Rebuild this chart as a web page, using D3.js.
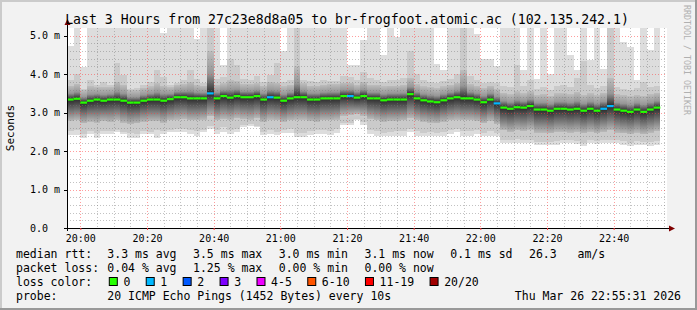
<!DOCTYPE html>
<html>
<head>
<meta charset="utf-8">
<script src="https://cdn.jsdelivr.net/npm/d3@7"></script>
<style>
  body { margin: 0; background: #f2f2f2; }
  svg text { font-family: "DejaVu Sans Mono", monospace; white-space: pre; }
</style>
</head>
<body>
<svg id="chart" width="697" height="310"></svg>
<script>
// ---- data (2 minute columns starting 19:56) ----
const startTime = new Date(2026, 2, 26, 19, 56)
const stepMinutes = 2

const medianRtt = [3.34,3.36,3.26,3.31,3.34,3.31,3.34,3.34,3.31,3.26,
    3.26,3.31,3.34,3.34,3.31,3.35,3.40,3.40,3.37,3.37,
    3.37,3.50,3.37,3.43,3.39,3.43,3.40,3.40,3.43,3.34,
    3.40,3.39,3.31,3.37,3.40,3.40,3.34,3.34,3.37,3.37,
    3.37,3.43,3.43,3.39,3.43,3.37,3.37,3.32,3.34,3.34,
    3.34,3.48,3.37,3.32,3.29,3.27,3.32,3.37,3.40,3.37,
    3.37,3.34,3.27,3.34,3.24,3.13,3.10,3.14,3.13,3.17,
    3.08,3.08,3.05,3.10,3.10,3.08,3.10,3.05,3.10,3.05,
    3.10,3.17,3.08,3.05,3.02,3.08,3.02,3.08,3.13]

const lossPct = [0,0,0,0,0,0,0,0,0,0, 0,0,0,0,0,0,0,0,0,0,
    0,1.25,0,0,0,0,0,0,0,0, 0.42,0,0,0,0,0,0,0,0,0,
    0,0,0.42,0,0,0,0,0,0,0, 0,0,0,0,0,0,0,0,0,0,
    0,0,0,0,0.42,0,0,0,0,0, 0,0,0,0,0,0,0,0,0,0,
    0.42,0.63,0,0,0,0,0,0,0]

// slowest ping (values above the top are clipped)
const pingMax = [4.72,6,4.19,6,6,6,6,6,6,6,
    6,6,6,6,5.08,6,6,6,6,4.92,
    6,6,6,4.25,6,6,6,6,6,6,
    6,6,4.60,6,6,6,6,6,6,6,
    6,6,4.23,4.23,4.88,6,6,4.51,6,4.97,
    6,6,6,6,6,4.27,4.12,6,6,6,
    6,5.05,4.40,4.40,4.20,6,6,6,4.10,6,
    3.88,6,4.01,6,6,4.50,4.12,6,4.37,6,
    4.14,6,6,4.84,4.70,3.84,6,4.63,6]

// second slowest ping
const pingHi2 = [3.84,4.01,3.62,3.84,3.73,3.79,3.71,4.29,3.97,3.62,
    3.64,3.71,3.79,4.10,3.93,3.72,3.76,3.84,4.11,3.88,
    3.76,6,3.88,3.92,4.40,4.23,3.88,3.86,3.95,3.80,
    3.98,4.29,3.80,3.86,6,3.84,3.82,3.80,3.86,3.82,
    3.82,3.96,3.92,3.86,4.05,3.90,3.86,3.80,3.86,3.84,
    3.90,4.60,4.00,3.84,3.80,3.78,3.82,3.88,4.00,6,
    3.94,3.84,3.78,3.80,3.76,3.70,3.66,4.23,3.68,3.84,
    3.62,3.66,3.60,3.70,3.72,3.66,3.90,4.35,3.72,3.64,
    3.70,6,3.66,3.62,3.60,3.64,3.79,3.66,3.70]

// upper edge of the dense smoke
const pingHi1 = [3.70,3.75,3.58,3.68,3.66,3.66,3.66,3.80,3.72,3.58,
    3.58,3.64,3.68,3.76,3.70,3.66,3.72,3.74,3.80,3.72,
    3.70,4.60,3.72,3.76,3.84,3.82,3.74,3.74,3.76,3.70,
    3.80,3.78,3.68,3.72,4.20,3.76,3.70,3.70,3.72,3.74,
    3.74,3.78,3.78,3.72,3.80,3.72,3.72,3.68,3.70,3.70,
    3.72,3.90,3.74,3.68,3.66,3.64,3.68,3.72,3.78,4.10,
    3.74,3.70,3.64,3.70,3.62,3.52,3.48,3.55,3.50,3.56,
    3.46,3.48,3.44,3.50,3.50,3.48,3.54,3.46,3.50,3.46,
    3.52,3.90,3.48,3.46,3.42,3.46,3.44,3.48,3.52]

// lower edge of the dense smoke
const pingLo1 = [2.78,2.80,2.72,2.76,2.74,2.78,2.76,2.80,2.74,2.70,
    2.72,2.76,2.78,2.78,2.74,2.80,2.82,2.84,2.80,2.80,
    2.82,2.90,2.80,2.84,2.82,2.86,2.84,2.82,2.86,2.76,
    2.82,2.80,2.76,2.80,2.82,2.82,2.78,2.76,2.80,2.80,
    2.82,2.92,2.94,2.96,2.92,2.84,2.80,2.76,2.78,2.78,
    2.80,2.86,2.80,2.76,2.74,2.72,2.76,2.80,2.82,2.80,
    2.80,2.78,2.72,2.78,2.70,2.54,2.50,2.54,2.52,2.56,
    2.48,2.48,2.46,2.50,2.50,2.48,2.50,2.46,2.50,2.46,
    2.50,2.54,2.48,2.46,2.44,2.48,2.44,2.48,2.52]

// second fastest ping
const pingLo2 = [2.52,2.54,2.44,2.52,2.46,2.52,2.52,2.56,2.50,2.46,
    2.44,2.52,2.50,2.54,2.52,2.56,2.58,2.58,2.54,2.52,
    2.56,2.64,2.54,2.62,2.56,2.58,2.68,2.70,2.66,2.50,
    2.56,2.50,2.56,2.58,2.48,2.48,2.52,2.56,2.56,2.52,
    2.58,2.74,2.74,2.84,2.76,2.56,2.52,2.48,2.50,2.52,
    2.52,2.58,2.52,2.48,2.50,2.46,2.50,2.56,2.58,2.52,
    2.52,2.56,2.48,2.52,2.46,2.30,2.28,2.32,2.30,2.30,
    2.24,2.24,2.24,2.26,2.28,2.28,2.26,2.22,2.28,2.26,
    2.28,2.30,2.28,2.26,2.22,2.26,2.24,2.24,2.26]

// fastest ping
const pingMin = [2.43,2.43,2.34,2.45,2.34,2.45,2.45,2.49,2.45,2.34,
    2.34,2.45,2.45,2.34,2.45,2.49,2.49,2.49,2.45,2.40,
    2.49,2.57,2.45,2.49,2.45,2.49,2.62,2.64,2.62,2.42,
    2.45,2.42,2.47,2.48,2.37,2.37,2.42,2.45,2.45,2.42,
    2.47,2.69,2.67,2.80,2.69,2.45,2.40,2.38,2.38,2.40,
    2.40,2.49,2.40,2.38,2.40,2.38,2.40,2.45,2.49,2.40,
    2.40,2.45,2.38,2.40,2.38,2.20,2.20,2.22,2.22,2.22,
    2.15,2.15,2.15,2.17,2.20,2.20,2.18,2.12,2.20,2.18,
    2.20,2.22,2.20,2.17,2.12,2.15,2.15,2.13,2.15]

const yTicks = [0, 1, 2, 3, 4, 5]
const yTickLabels = ['0.0', '1.0 m', '2.0 m', '3.0 m', '4.0 m', '5.0 m']

const lossLabels = ['0', '1', '2', '3', '4-5', '6-10', '11-19', '20/20']
const lossColors = ['#26ff00', '#00b8ff', '#0059ff', '#7e00ff', '#ee00ff', '#ff5500', '#ff0000', '#a10000']
const lossLimits = [0, 1, 2, 3, 5, 10, 19, 20]   // lost pings out of 20

const titleText = 'Last 3 Hours from 27c23e8d8a05 to br-frogfoot.atomic.ac (102.135.242.1)'
const probeText = '20 ICMP Echo Pings (1452 Bytes) every 10s'
const dateText = 'Thu Mar 26 22:55:31 2026'
const amsText = '26.3   am/s'

// ---- layout ----
const W = 697, H = 310
const plot = {left: 67, right: 667, top: 28, bottom: 228}
const times = medianRtt.map((d, i) => d3.timeMinute.offset(startTime, i * stepMinutes))

const x = d3.scaleTime()
    .domain([startTime, d3.timeMinute.offset(startTime, 180)])
    .range([plot.left, plot.right])
const y = d3.scaleLinear()
    .domain([0, 5.2])
    .range([plot.bottom, plot.top])

const svg = d3.select('#chart')
const defs = svg.append('defs')

svg.append('rect').attr('width', W).attr('height', H).attr('fill', '#f2f2f2')
svg.append('rect').attr('x', 0).attr('y', 0).attr('width', W).attr('height', 2).attr('fill', '#cbcbcb')
svg.append('rect').attr('x', 0).attr('y', 0).attr('width', 2).attr('height', H).attr('fill', '#cbcbcb')
svg.append('rect').attr('x', W - 2).attr('y', 0).attr('width', 2).attr('height', H).attr('fill', '#999')
svg.append('rect').attr('x', 0).attr('y', H - 2).attr('width', W).attr('height', 2).attr('fill', '#999')

svg.append('rect')
    .attr('x', plot.left).attr('y', plot.top)
    .attr('width', plot.right - plot.left).attr('height', plot.bottom - plot.top)
    .attr('fill', '#fff')

defs.append('clipPath').attr('id', 'clip')
    .append('rect')
    .attr('x', plot.left).attr('y', plot.top)
    .attr('width', plot.right - plot.left).attr('height', plot.bottom - plot.top)

const chart = svg.append('g').attr('clip-path', 'url(#clip)')

const colX = i => x(times[i])
const colW = i => x(d3.timeMinute.offset(times[i], stepMinutes)) - x(times[i])

function band(lo, hi, fill) {
    chart.append('g').selectAll('rect')
        .data(medianRtt)
        .join('rect')
        .attr('x', (d, i) => colX(i))
        .attr('width', (d, i) => colW(i))
        .attr('y', (d, i) => y(hi[i]))
        .attr('height', (d, i) => y(lo[i]) - y(hi[i]))
        .attr('fill', typeof fill === 'function' ? fill : () => fill)
        .attr('shape-rendering', 'crispEdges')
}

// smoke gradients: darkest at the median
medianRtt.forEach((m, i) => {
    const top = y(pingHi1[i]), bot = y(pingLo1[i])
    const off = (y(m) - top) / (bot - top)
    const g = defs.append('linearGradient')
        .attr('id', `sm${i}`)
        .attr('gradientUnits', 'userSpaceOnUse')
        .attr('x1', 0).attr('x2', 0).attr('y1', top).attr('y2', bot)
    g.append('stop').attr('offset', 0).attr('stop-color', '#bdbdbd')
    g.append('stop').attr('offset', off * 0.55).attr('stop-color', '#969696')
    g.append('stop').attr('offset', off).attr('stop-color', '#2a2a2a')
    g.append('stop').attr('offset', off + (1 - off) * 0.35).attr('stop-color', '#5c5c5c')
    g.append('stop').attr('offset', off + (1 - off) * 0.7).attr('stop-color', '#8e8e8e')
    g.append('stop').attr('offset', 1).attr('stop-color', '#b8b8b8')
})

band(pingMin, pingMax, '#dddddd')
band(pingLo2, pingHi2, '#cacaca')
band(pingLo1, pingHi1, (d, i) => `url(#sm${i})`)

// grid
const grid = svg.append('g')
const minorY = d3.range(0.2, 5.2, 0.2).filter(v => Math.abs(v - Math.round(v)) > 0.01)
grid.selectAll('.gy').data(minorY).join('line')
    .attr('x1', plot.left).attr('x2', plot.right)
    .attr('y1', d => Math.round(y(d)) + 0.5).attr('y2', d => Math.round(y(d)) + 0.5)
    .attr('stroke', 'rgba(120,120,120,0.45)').attr('stroke-dasharray', '1,2')
const minorX = d3.timeMinute.every(5).range(startTime, x.domain()[1])
    .filter(t => t.getMinutes() % 20 !== 0)
grid.selectAll('.gx').data(minorX).join('line')
    .attr('y1', plot.top).attr('y2', plot.bottom)
    .attr('x1', d => Math.round(x(d)) + 0.5).attr('x2', d => Math.round(x(d)) + 0.5)
    .attr('stroke', 'rgba(120,120,120,0.45)').attr('stroke-dasharray', '1,2')
grid.selectAll('.my').data(yTicks.slice(1)).join('line')
    .attr('x1', plot.left).attr('x2', plot.right)
    .attr('y1', d => Math.round(y(d)) + 0.5).attr('y2', d => Math.round(y(d)) + 0.5)
    .attr('stroke', 'rgba(255,60,60,0.5)').attr('stroke-dasharray', '1,2')
const majorX = d3.timeMinute.every(20).range(startTime, x.domain()[1])
grid.selectAll('.mx').data(majorX).join('line')
    .attr('y1', plot.top).attr('y2', plot.bottom)
    .attr('x1', d => Math.round(x(d)) + 0.5).attr('x2', d => Math.round(x(d)) + 0.5)
    .attr('stroke', 'rgba(255,60,60,0.5)').attr('stroke-dasharray', '1,2')

// median line coloured by loss
function lossIndex(p) {
    const lost = p / 100 * 20
    if (lost === 0) return 0
    return lossLimits.findIndex(l => lost <= l)
}
svg.append('g').selectAll('line')
    .data(medianRtt)
    .join('line')
    .attr('x1', (d, i) => colX(i))
    .attr('x2', (d, i) => colX(i) + colW(i))
    .attr('y1', d => y(d))
    .attr('y2', d => y(d))
    .attr('stroke', (d, i) => lossColors[lossIndex(lossPct[i])])
    .attr('stroke-width', 2.2)

// axes
const axisG = svg.append('g')
axisG.append('line').attr('x1', plot.left + 0.5).attr('x2', plot.left + 0.5)
    .attr('y1', plot.bottom + 3).attr('y2', plot.top - 5).attr('stroke', '#000')
axisG.append('line').attr('x1', plot.left - 3).attr('x2', plot.right + 3)
    .attr('y1', plot.bottom + 0.5).attr('y2', plot.bottom + 0.5).attr('stroke', '#000')
axisG.append('path')
    .attr('d', `M${plot.left - 2.5},${plot.top - 3} L${plot.left + 0.5},${plot.top - 9} L${plot.left + 3.5},${plot.top - 3} Z`)
    .attr('fill', '#7f0000')
axisG.append('path')
    .attr('d', `M${plot.right + 2},${plot.bottom - 2.5} L${plot.right + 8},${plot.bottom + 0.5} L${plot.right + 2},${plot.bottom + 3.5} Z`)
    .attr('fill', '#7f0000')

const xAxis = d3.axisBottom(x)
    .ticks(d3.timeMinute.every(20))
    .tickFormat(d3.timeFormat('%H:%M'))
    .tickSize(2)
    .tickPadding(5)
const xg = svg.append('g').attr('transform', `translate(0,${plot.bottom})`).call(xAxis)
xg.select('.domain').remove()
xg.selectAll('line').attr('stroke', '#ff4040')
xg.selectAll('text').attr('font-size', 10).attr('fill', '#000')
    .attr('font-family', '"DejaVu Sans Mono", monospace')

svg.append('g').selectAll('line').data(yTicks).join('line')
    .attr('x1', plot.left - 3).attr('x2', plot.left)
    .attr('y1', d => Math.round(y(d)) + 0.5).attr('y2', d => Math.round(y(d)) + 0.5)
    .attr('stroke', '#000')
svg.append('g').selectAll('text').data(yTicks).join('text')
    .attr('x', 30)
    .attr('y', d => y(d) + 3.5)
    .attr('font-size', 10)
    .text((d, i) => yTickLabels[i])

// titles
svg.append('text').attr('x', 347).attr('y', 23.5).attr('text-anchor', 'middle')
    .attr('font-size', 13.2).text(titleText)
svg.append('text').attr('transform', `translate(14,${(plot.top + plot.bottom) / 2}) rotate(-90)`)
    .attr('text-anchor', 'middle').attr('font-size', 11).text('Seconds')
svg.append('text').attr('transform', 'translate(684,5) rotate(90)')
    .attr('font-size', 8.3).attr('fill', '#b0b0b0').text('RRDTOOL / TOBI OETIKER')

// legend
const fmt1 = v => v.toFixed(1)
const fmt2 = v => v.toFixed(2)
const mAvg = d3.mean(medianRtt), mSd = d3.deviation(medianRtt)
const rttItems = [
    `${fmt1(mAvg)} ms avg`, `${fmt1(d3.max(medianRtt))} ms max`, `${fmt1(d3.min(medianRtt))} ms min`,
    `${fmt1(medianRtt[medianRtt.length - 1])} ms now`, `${fmt1(mSd)} ms sd`, amsText]
const lossItems = [
    `${fmt2(d3.mean(lossPct))} % avg`, `${fmt2(d3.max(lossPct))} % max`,
    `${fmt2(d3.min(lossPct))} % min`, `${fmt2(lossPct[lossPct.length - 1])} % now`]

const legend = svg.append('g').attr('font-size', 11.5)
const rowY = [258, 272, 286, 300]
const col0 = 16, col1 = 107.3, gap = 16.5, charW = 11.5 * 0.602

function row(label, items, yy) {
    legend.append('text').attr('x', col0).attr('y', yy).text(label)
    let cx = col1
    items.forEach(s => {
        legend.append('text').attr('x', cx).attr('y', yy).text(s)
        cx += s.length * charW + gap
    })
}
row('median rtt:', rttItems, rowY[0])
row('packet loss:', lossItems, rowY[1])

legend.append('text').attr('x', col0).attr('y', rowY[2]).text('loss color:')
let bx = col1 + 1.5
lossLabels.forEach((l, i) => {
    legend.append('rect').attr('x', bx + 0.5).attr('y', rowY[2] - 8.5)
        .attr('width', 8).attr('height', 8)
        .attr('fill', lossColors[i]).attr('stroke', '#000')
    legend.append('text').attr('x', bx + 14.6).attr('y', rowY[2]).text(l)
    bx += 14.6 + l.length * charW + 15.4
})

legend.append('text').attr('x', col0).attr('y', rowY[3]).text('probe:')
legend.append('text').attr('x', col1).attr('y', rowY[3]).text(probeText)
legend.append('text').attr('x', 681).attr('y', rowY[3]).attr('text-anchor', 'end').text(dateText)
</script>
</body>
</html>
